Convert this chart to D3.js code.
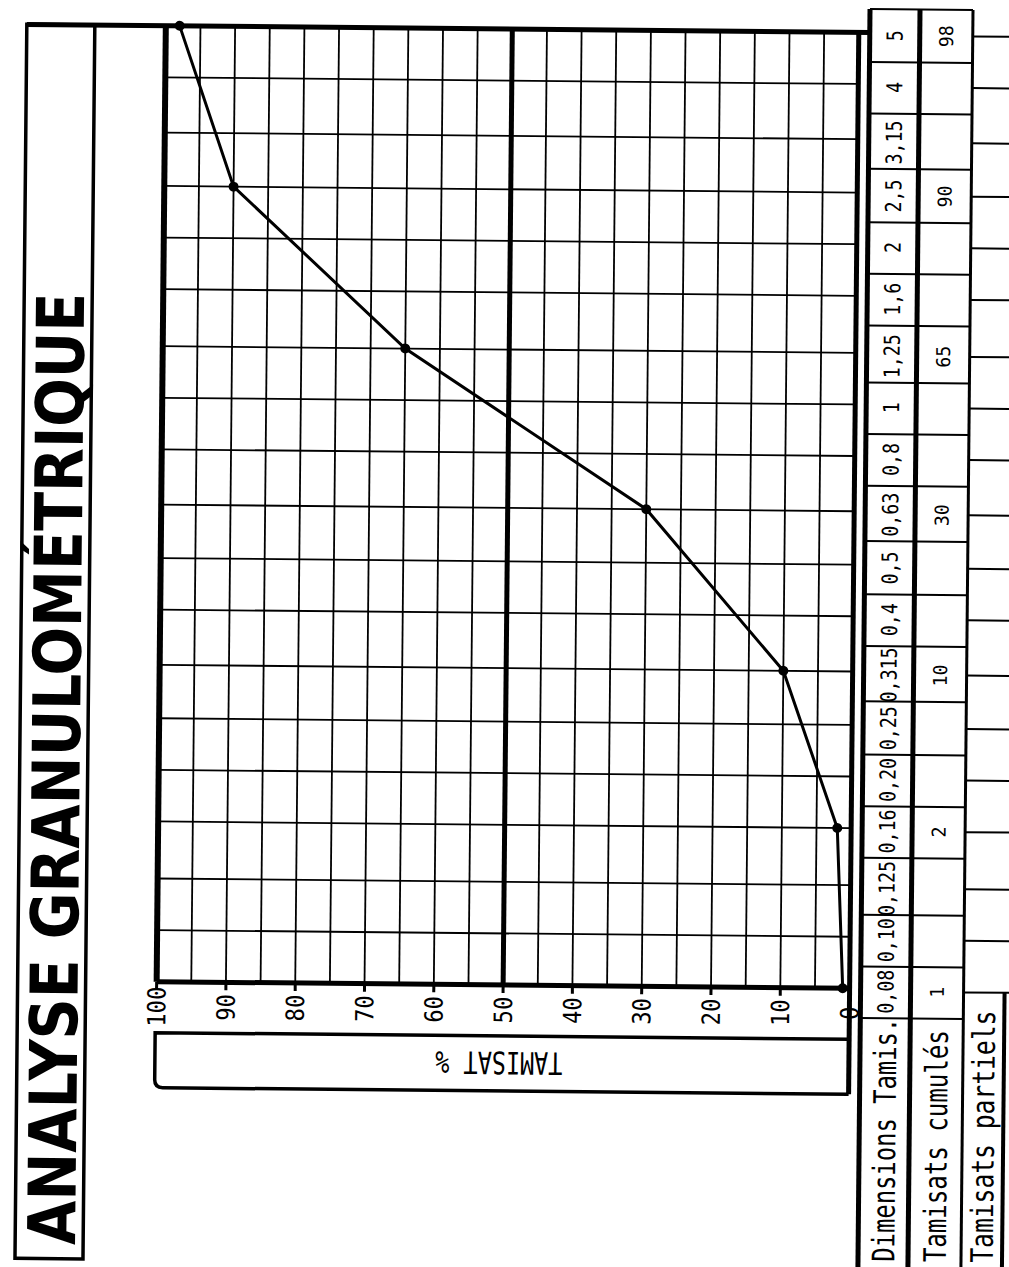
<!DOCTYPE html>
<html>
<head>
<meta charset="utf-8">
<script src="https://cdn.jsdelivr.net/npm/d3@7"></script>
<style>
  body { margin: 0; background: white; }
  svg { display: block; }
  text { font-family: "DejaVu Sans Mono", monospace; fill: black; }
</style>
</head>
<body>
<div id="container"></div>
<script>
// sieve sizes in mm (bottom of the sheet to the top)
let sieveSizes = [0.08, 0.10, 0.125, 0.16, 0.20, 0.25, 0.315, 0.4, 0.5, 0.63, 0.8, 1, 1.25, 1.6, 2, 2.5, 3.15, 4, 5];
let sieveLabels = ["0,08", "0,10", "0,125", "0,16", "0,20", "0,25", "0,315", "0,4", "0,5", "0,63", "0,8", "1", "1,25", "1,6", "2", "2,5", "3,15", "4", "5"];
// cumulative passing %
let cumulSizes = [0.08, 0.16, 0.315, 0.63, 1.25, 2.5, 5];
let cumulValues = [1, 2, 10, 30, 65, 90, 98];
let pctTicks = [0, 10, 20, 30, 40, 50, 60, 70, 80, 90, 100];
let gridPct = [0, 5, 10, 15, 20, 25, 30, 35, 40, 45, 50, 55, 60, 65, 70, 75, 80, 85, 90, 95, 100];
let rowLabels = ["Dimensions Tamis.", "Tamisats cumulés", "Tamisats partiels"];
let title = "ANALYSE GRANULOMÉTRIQUE";
let axisTitle = "TAMISAT %";

let w = 1009;
let h = 1267;
let plotLeft = 160, plotRight = 853, plotTop = 29, plotBottom = 985;
let colX = [864, 914, 967, 1008];   // table column edges
let cellOff = 3;                    // table is printed a little low vs the grid
let tableBottom = 1280;

let viz = d3.select("#container")
  .append("svg")
    .attr("width", w)
    .attr("height", h)
    .style("background-color", "white");

// the scan is a bit crooked, so tilt the whole sheet
let sheet = viz.append("g")
  .attr("transform", "rotate(0.55," + w / 2 + "," + h / 2 + ")");

let xScale = d3.scaleLinear().domain([0, 100]).range([plotRight, plotLeft]);
let yScale = d3.scaleLog().domain([0.08, 5]).range([plotBottom, plotTop]);
let step = (plotBottom - plotTop) / (sieveSizes.length - 1);

function addLine(g, x1, y1, x2, y2, sw){
  return g.append("line")
    .attr("x1", x1).attr("y1", y1).attr("x2", x2).attr("y2", y2)
    .attr("stroke", "black").attr("stroke-width", sw);
}

// title box
sheet.append("rect")
  .attr("x", 21).attr("y", plotTop)
  .attr("width", 68).attr("height", 1234)
  .attr("fill", "none").attr("stroke", "black").attr("stroke-width", 3.5);

sheet.append("text")
  .text(title)
  .attr("transform", "translate(81,1249) rotate(-90)")
  .style("font-family", "'DejaVu Sans', sans-serif")
  .style("font-weight", "bold")
  .style("font-size", "66px")
  .attr("textLength", 952)
  .attr("lengthAdjust", "spacingAndGlyphs");

// grid
let grid = sheet.append("g");
grid.selectAll(".vline").data(gridPct).enter()
  .append("line")
    .attr("x1", d => xScale(d)).attr("x2", d => xScale(d))
    .attr("y1", plotTop)
    .attr("y2", d => d == 0 ? 1091 : plotBottom)
    .attr("stroke", "black")
    .attr("stroke-width", d => d == 100 ? 6 : (d % 50 == 0 ? 5 : 1.8));

grid.selectAll(".hline").data(sieveSizes).enter()
  .append("line")
    .attr("x1", plotLeft).attr("x2", plotRight)
    .attr("y1", d => yScale(d)).attr("y2", d => yScale(d))
    .attr("stroke", "black")
    .attr("stroke-width", (d, i) => (i == 0 ? 5 : 1.8));

// top border runs from the title box to the table
addLine(sheet, 21, plotTop, colX[0], plotTop, 5);

// percent ticks + labels
grid.selectAll(".tick").data(pctTicks).enter()
  .append("line")
    .attr("x1", d => xScale(d)).attr("x2", d => xScale(d))
    .attr("y1", plotBottom).attr("y2", plotBottom + 8)
    .attr("stroke", "black").attr("stroke-width", 3);

sheet.selectAll(".pctlabel").data(pctTicks).enter()
  .append("text")
    .text(d => d)
    .attr("transform", d => "translate(" + xScale(d) + ",1010) rotate(-90)")
    .attr("text-anchor", "middle")
    .attr("dy", "0.36em")
    .style("font-size", "25px")
    .attr("textLength", d => String(d).length * 13.3)
    .attr("lengthAdjust", "spacingAndGlyphs");

// TAMISAT % box, rounded bottom-left corner
let bx0 = 159, by0 = 1036, by1 = 1091, r = 8;
sheet.append("path")
  .attr("d", "M" + plotRight + "," + by0 + " H" + bx0 + " V" + (by1 - r) +
             " Q" + bx0 + "," + by1 + " " + (bx0 + r) + "," + by1 + " H" + plotRight)
  .attr("fill", "none").attr("stroke", "black").attr("stroke-width", 3.5);

sheet.append("text")
  .text(axisTitle)
  .attr("transform", "translate(503,1063) rotate(180)")
  .attr("text-anchor", "middle")
  .attr("dy", "0.36em")
  .style("font-size", "31px")
  .attr("textLength", 127)
  .attr("lengthAdjust", "spacingAndGlyphs");

// curve
let curve = d3.line()
  .x((d, i) => xScale(cumulValues[i]))
  .y(d => yScale(d));

sheet.append("path")
  .datum(cumulSizes)
  .attr("d", curve)
  .attr("fill", "none")
  .attr("stroke", "black")
  .attr("stroke-width", 3);

sheet.selectAll(".dot").data(cumulSizes).enter()
  .append("circle")
    .attr("cx", (d, i) => xScale(cumulValues[i]))
    .attr("cy", d => yScale(d))
    .attr("r", 5)
    .attr("fill", "black");

// table on the right
let table = sheet.append("g");
let tableTop = yScale(5) - step / 2 + cellOff;
let cellEdges = [tableTop].concat(sieveSizes.map(d => yScale(d) + step / 2 + cellOff));

// cell edges for sieve sizes and cumulative columns
cellEdges.forEach(function(y){
  addLine(table, colX[0], y, colX[2], y, 2);
});
// partial column: lines sit on the grid lines and run off the page
sieveSizes.forEach(function(d){
  addLine(table, colX[2], yScale(d) + cellOff, w + 10, yScale(d) + cellOff, 2);
});

addLine(table, colX[0], tableTop, colX[0], tableBottom, 5);
addLine(table, colX[1], tableTop, colX[1], tableBottom, 5);
addLine(table, colX[2], tableTop, colX[2], tableBottom, 3);
addLine(table, colX[3], yScale(0.08) + cellOff, colX[3], tableBottom, 4);

table.selectAll(".size").data(sieveSizes).enter()
  .append("text")
    .text((d, i) => sieveLabels[i])
    .attr("transform", d => "translate(" + ((colX[0] + colX[1]) / 2) + "," + (yScale(d) + cellOff) + ") rotate(-90)")
    .attr("text-anchor", "middle")
    .attr("dy", "0.36em")
    .style("font-size", "22px")
    .attr("textLength", (d, i) => sieveLabels[i].length * 11)
    .attr("lengthAdjust", "spacingAndGlyphs");

table.selectAll(".cumul").data(cumulSizes).enter()
  .append("text")
    .text((d, i) => cumulValues[i])
    .attr("transform", d => "translate(" + ((colX[1] + colX[2]) / 2) + "," + (yScale(d) + cellOff) + ") rotate(-90)")
    .attr("text-anchor", "middle")
    .attr("dy", "0.36em")
    .style("font-size", "19px")
    .attr("textLength", (d, i) => String(cumulValues[i]).length * 11)
    .attr("lengthAdjust", "spacingAndGlyphs");

let rowX = [(colX[0] + colX[1]) / 2, (colX[1] + colX[2]) / 2, (colX[2] + colX[3]) / 2];
let rowLen = [244, 232, 252];
table.selectAll(".rowlabel").data(rowLabels).enter()
  .append("text")
    .text(d => d)
    .attr("transform", (d, i) => "translate(" + rowX[i] + ",1258) rotate(-90)")
    .attr("dy", "0.36em")
    .style("font-size", "31px")
    .attr("textLength", (d, i) => rowLen[i])
    .attr("lengthAdjust", "spacingAndGlyphs");
</script>
</body>
</html>
